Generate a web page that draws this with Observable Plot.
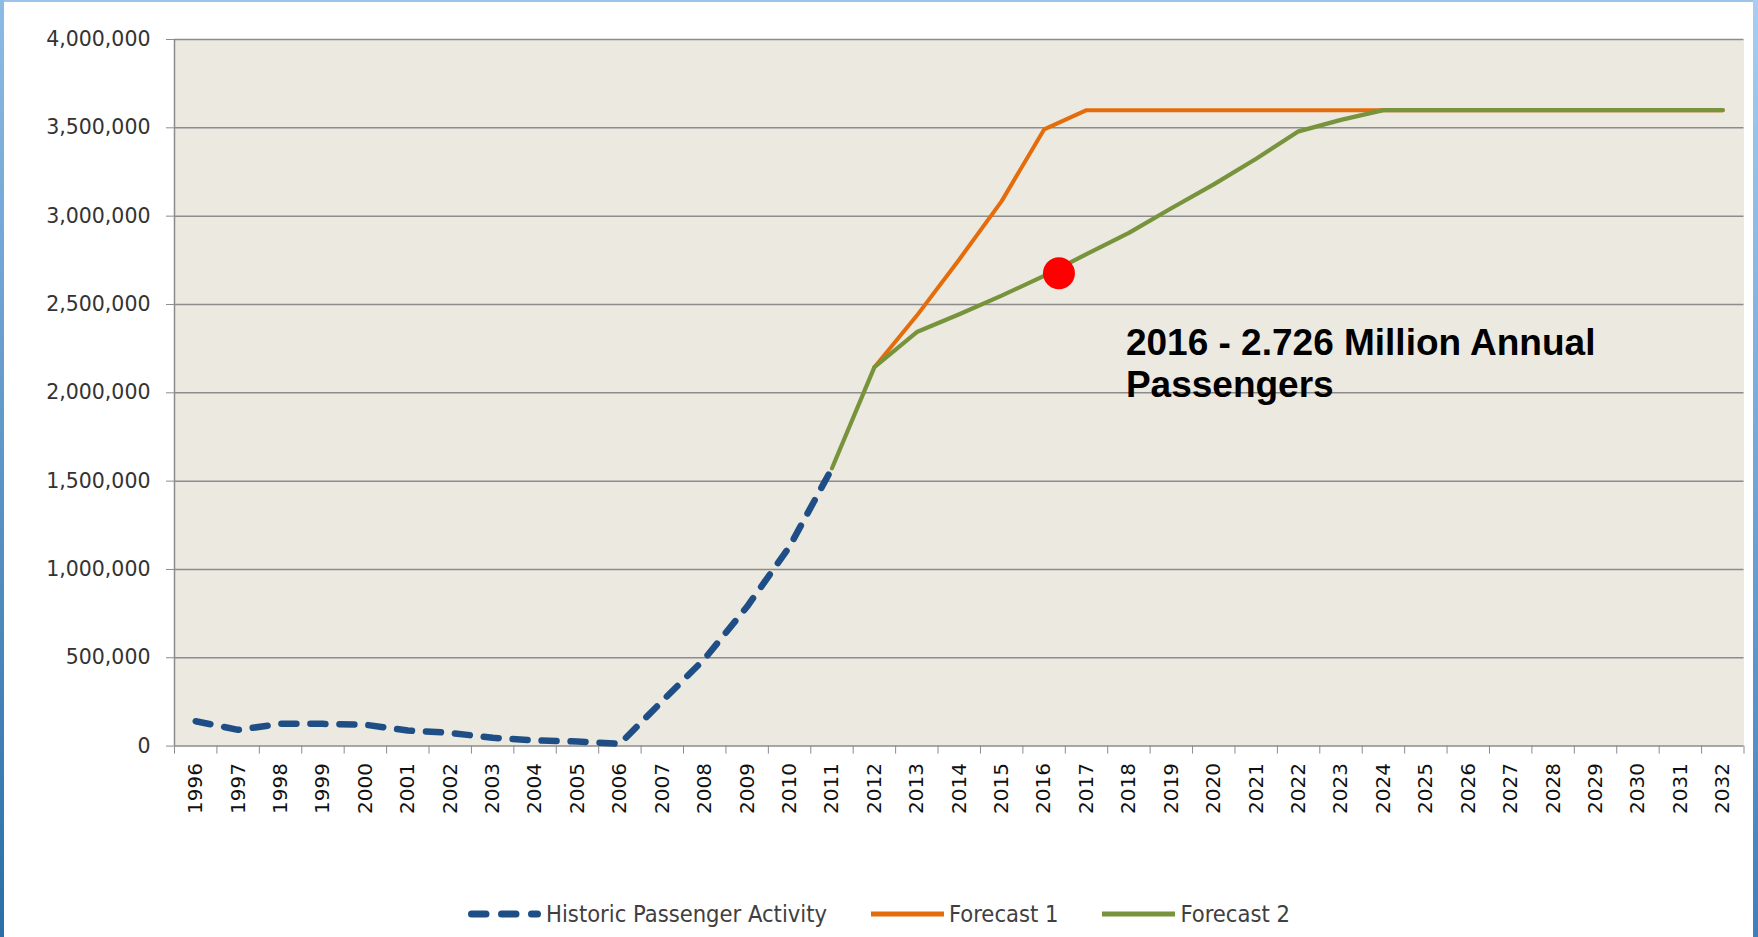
<!DOCTYPE html>
<html>
<head>
<meta charset="utf-8">
<script src="https://cdn.jsdelivr.net/npm/d3@7"></script>
<script src="https://cdn.jsdelivr.net/npm/@observablehq/plot@0.6"></script>
<style>
  html, body { margin: 0; padding: 0; background: #fff; }
  #page { position: relative; width: 1758px; height: 937px; overflow: hidden; background: #fff; }
  #chart { position: absolute; left: 0; top: 0; }
  .stripL { position: absolute; left: 0; top: 0; width: 4px; height: 937px; background: linear-gradient(#8dbbe6, #2a6fa8); }
  .stripR { position: absolute; left: 1753px; top: 0; width: 5px; height: 937px; background: linear-gradient(#a9cdee, #3f7fbd); }
  .stripT { position: absolute; left: 0; top: 0; width: 1758px; height: 2px; background: #9cc3ea; }
  #legend { position: absolute; left: 0; top: 896px; width: 1758px; height: 36px; display: flex; justify-content: center; align-items: center; font-family: "DejaVu Sans Condensed", "Liberation Sans Narrow", sans-serif; font-size: 23.5px; color: #404040; }
  .item { display: flex; align-items: center; margin: 0 22px; }
  .item svg { margin-right: 5px; }
</style>
</head>
<body>
<div id="page">
  <div id="chart"></div>
  <div id="legend"></div>
  <div class="stripT"></div>
  <div class="stripL"></div>
  <div class="stripR"></div>
</div>
<script>
// ---- data ----
const years = [1996,1997,1998,1999,2000,2001,2002,2003,2004,2005,2006,2007,2008,2009,2010,2011,2012,2013,2014,2015,2016,2017,2018,2019,2020,2021,2022,2023,2024,2025,2026,2027,2028,2029,2030,2031,2032];
const yTicks = [0, 500000, 1000000, 1500000, 2000000, 2500000, 3000000, 3500000, 4000000];

const historicYears  = [1996,1997,1998,1999,2000,2001,2002,2003,2004,2005,2006,2007,2008,2009,2010,2011];
const historicValues = [141000, 92000, 126000, 126000, 121000, 88000, 75000, 47000, 32000, 26000, 13000, 255000, 495000, 790000, 1130000, 1573000];

const forecast1Years  = [2012,2013,2014,2015,2016,2017,2018,2019,2020,2021,2022,2023,2024,2025,2026,2027,2028,2029,2030,2031,2032];
const forecast1Values = [2145000, 2437000, 2755000, 3085000, 3491000, 3600000, 3600000, 3600000, 3600000, 3600000, 3600000, 3600000, 3600000, 3600000, 3600000, 3600000, 3600000, 3600000, 3600000, 3600000, 3600000];

const forecast2Years  = [2011,2012,2013,2014,2015,2016,2017,2018,2019,2020,2021,2022,2023,2024,2025,2026,2027,2028,2029,2030,2031,2032];
const forecast2Values = [1573000, 2145000, 2344000, 2445000, 2550000, 2662000, 2785000, 2905000, 3045000, 3180000, 3325000, 3480000, 3545000, 3600000, 3600000, 3600000, 3600000, 3600000, 3600000, 3600000, 3600000, 3600000];

const markerYear  = [2016.35];
const markerValue = [2677000];

const annotationYear  = [2018];
const annotationValue = [2385000];
const annotationText  = ["2016 - 2.726 Million Annual\nPassengers"];

const seriesNames  = ["Historic Passenger Activity", "Forecast 1", "Forecast 2"];
const seriesColors = ["#1F4E86", "#E46C0A", "#77933C"];

// ---- tables ----
const historic  = historicYears.map((y, i) => ({year: y, value: historicValues[i]}));
const forecast1 = forecast1Years.map((y, i) => ({year: y, value: forecast1Values[i]}));
const forecast2 = forecast2Years.map((y, i) => ({year: y, value: forecast2Values[i]}));
const marker = markerYear.map((y, i) => ({year: y, value: markerValue[i]}));
const annotation = annotationYear.map((y, i) => ({year: y, value: annotationValue[i], text: annotationText[i]}));
const tickBounds = years.map(y => y - 0.5).concat([years[years.length - 1] + 0.5]);

const grid = "#8c8c8c";

const chart = Plot.plot({
  width: 1758,
  height: 860,
  marginTop: 39,
  marginRight: 14.5,
  marginBottom: 114.4,
  marginLeft: 174,
  style: {fontFamily: "DejaVu Sans, Verdana, sans-serif", fontSize: "20px", color: "#262626", background: "transparent"},
  x: {type: "linear", domain: [tickBounds[0], tickBounds[tickBounds.length - 1]]},
  y: {domain: [0, 4000000]},
  marks: [
    Plot.frame({fill: "#ECE9E0", stroke: null}),
    Plot.gridY(yTicks, {stroke: grid, strokeOpacity: 1, strokeWidth: 1.5}),
    Plot.ruleX([tickBounds[0]], {stroke: grid, strokeWidth: 1.5}),
    Plot.axisY(yTicks, {tickSize: 8, tickPadding: 16, tickFormat: d3.format(","), stroke: grid, fill: "#333", fontSize: 20.5, label: null}),
    Plot.axisX(tickBounds, {tickSize: 8, tickFormat: () => "", stroke: grid, label: null}),
    Plot.axisX(years, {tickSize: 0, tickPadding: 17, tickRotate: -90, tickFormat: d => String(d), fill: "#111", fontSize: 20, label: null}),
    Plot.line(forecast1, {x: "year", y: "value", stroke: seriesColors[1], strokeWidth: 4}),
    Plot.line(forecast2, {x: "year", y: "value", stroke: seriesColors[2], strokeWidth: 4.2}),
    Plot.line(historic, {x: "year", y: "value", stroke: seriesColors[0], strokeWidth: 6.5, strokeDasharray: "15,14", strokeLinecap: "round"}),
    Plot.dot(marker, {x: "year", y: "value", r: 16, fill: "#FF0000", stroke: null}),
    Plot.text(annotation, {x: "year", y: "value", text: "text", textAnchor: "start", lineAnchor: "top", dx: -3,
      fontSize: 37, fontWeight: "bold", fontFamily: "Liberation Sans, Arial, sans-serif", lineHeight: 1.135, fill: "#000"})
  ]
});
document.getElementById("chart").appendChild(chart);

// ---- legend ----
const legend = document.getElementById("legend");
seriesNames.forEach((name, i) => {
  const item = document.createElement("div");
  item.className = "item";
  const dashed = i === 0;
  item.innerHTML =
    `<svg width="73" height="14" viewBox="0 0 73 14">` +
    (dashed
      ? `<line x1="3.5" y1="7" x2="69.5" y2="7" stroke="${seriesColors[i]}" stroke-width="7" stroke-linecap="round" stroke-dasharray="14.5,15.5"/>`
      : `<line x1="0" y1="7" x2="73" y2="7" stroke="${seriesColors[i]}" stroke-width="5"/>`) +
    `</svg><span>${name}</span>`;
  legend.appendChild(item);
});
</script>
</body>
</html>
